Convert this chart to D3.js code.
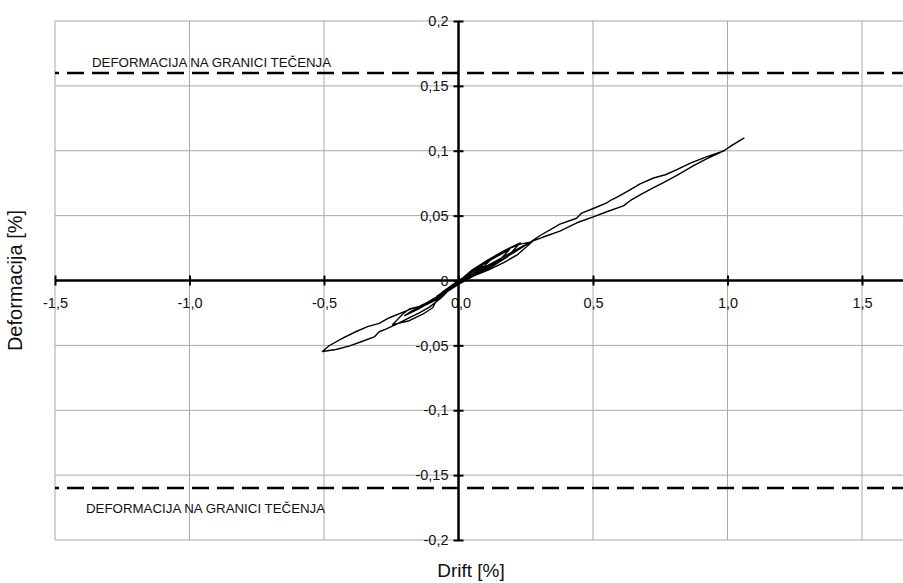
<!DOCTYPE html>
<html>
<head>
<meta charset="utf-8">
<script src="https://cdn.jsdelivr.net/npm/d3@7"></script>
<style>
  html, body { margin: 0; padding: 0; background: #fff; }
  svg { display: block; }
  text { font-family: "Liberation Sans", Arial, sans-serif; fill: #111; }
</style>
</head>
<body>
<svg id="chart" width="903" height="583"></svg>
<script>
// ---------- data ----------
const xTickValues = [-1.5, -1.0, -0.5, 0.0, 0.5, 1.0, 1.5];
const xTickLabels = ["-1,5", "-1,0", "-0,5", "0,0", "0,5", "1,0", "1,5"];
const yTickValues = [0.2, 0.15, 0.1, 0.05, 0, -0.05, -0.1, -0.15, -0.2];
const yTickLabels = ["0,2", "0,15", "0,1", "0,05", "0", "-0,05", "-0,1", "-0,15", "-0,2"];
const yieldLevels = [0.16, -0.16];
const yieldLabel = "DEFORMACIJA NA GRANICI TEČENJA";
const xTitle = "Drift [%]";
const yTitle = "Deformacija [%]";

// hysteresis record: drift [%]
const drift = [
  0, 0.04, 0.09, 0.06, 0.02, -0.03, -0.08, -0.05, -0.01, 0.03,
  0.07, 0.12, 0.08, 0.03, -0.04, -0.10, -0.06, -0.02,
  0.08, 0.13, 0.19, 0.15, 0.10, 0.05, 0.0, -0.05, -0.10, -0.14, -0.11, -0.07, -0.03, 0.01,
  0.05, 0.11, 0.17, 0.23, 0.18, 0.12, 0.06, 0.0, -0.06, -0.12, -0.17, -0.20, -0.15, -0.09, -0.04, 0.0,
  0.06, 0.12, 0.18, 0.23, 0.275, 0.22, 0.17, 0.11, 0.05, 0.0, -0.05, -0.096, -0.146, -0.183, -0.208, -0.245,
  -0.183, -0.133, -0.096, -0.083, -0.04, 0.0,
  0.05, 0.10, 0.16, 0.21, 0.27, 0.315, 0.377, 0.44, 0.501, 0.551, 0.613, 0.638, 0.675, 0.725, 0.762, 0.812,
  0.874, 0.924, 0.986, 1.02, 1.061,
  1.011, 0.986, 0.924, 0.862, 0.812, 0.769, 0.725, 0.675, 0.626, 0.588, 0.563, 0.551, 0.501, 0.458, 0.439,
  0.377, 0.302, 0.27, 0.20, 0.13, 0.06, 0.0,
  -0.03, -0.065, -0.108, -0.146, -0.195, -0.232, -0.27, -0.295, -0.313, -0.357, -0.407, -0.456, -0.506,
  -0.481, -0.432, -0.382, -0.338, -0.295, -0.257, -0.208, -0.171, -0.121, -0.06, -0.025, 0.0
];
// hysteresis record: deformation [%]
const deformation = [
  0, 0.005, 0.011, 0.006, 0.001, -0.005, -0.012, -0.008, -0.002, 0.003,
  0.010, 0.016, 0.008, 0.001, -0.008, -0.016, -0.009, -0.003,
  0.011, 0.017, 0.024, 0.015, 0.009, 0.003, -0.002, -0.009, -0.015, -0.020, -0.017, -0.012, -0.005, 0.001,
  0.008, 0.016, 0.023, 0.029, 0.018, 0.010, 0.004, -0.003, -0.011, -0.018, -0.023, -0.027, -0.022, -0.015, -0.007, -0.001,
  0.009, 0.017, 0.024, 0.028, 0.030, 0.020, 0.014, 0.008, 0.003, -0.002, -0.009, -0.0149, -0.020, -0.022, -0.026, -0.034,
  -0.031, -0.026, -0.021, -0.016, -0.008, -0.001,
  0.005, 0.010, 0.016, 0.022, 0.030, 0.0335, 0.038, 0.0445, 0.049, 0.053, 0.0575, 0.0615, 0.066, 0.0715, 0.0755, 0.081,
  0.0885, 0.094, 0.100, 0.1045, 0.1097,
  0.1035, 0.0998, 0.0955, 0.0905, 0.0855, 0.0815, 0.079, 0.0745, 0.0685, 0.064, 0.0615, 0.0598, 0.0555, 0.052, 0.048,
  0.0435, 0.0345, 0.030, 0.022, 0.014, 0.006, -0.001,
  -0.006, -0.0135, -0.0205, -0.025, -0.030, -0.0338, -0.0375, -0.0395, -0.0435, -0.0468, -0.0506, -0.0532, -0.0547,
  -0.0503, -0.0446, -0.0395, -0.0356, -0.033, -0.0287, -0.0246, -0.0215, -0.0188, -0.0125, -0.005, 0.0
];

// ---------- layout ----------
const svg = d3.select("#chart");
const W = 903, H = 583;
const x = d3.scaleLinear().domain([-1.5, 1.66]).range([55, 55 + 3.16 * 269]);
const y = d3.scaleLinear().domain([-0.2, 0.2]).range([540, 21]);
const plotLeft = x(-1.5), plotRight = W, plotTop = y(0.2), plotBottom = y(-0.2);

// grid
const grid = svg.append("g");
const xGridVals = [-1.5, -1.0, -0.5, 0.5, 1.0, 1.5];
grid.selectAll("line.vx").data(xGridVals).enter().append("line")
  .attr("x1", d => x(d)).attr("x2", d => x(d))
  .attr("y1", plotTop).attr("y2", plotBottom)
  .attr("stroke", "#a8a8a8").attr("stroke-width", 1);
grid.selectAll("line.hy").data(yTickValues.filter(v => v !== 0)).enter().append("line")
  .attr("x1", plotLeft).attr("x2", plotRight)
  .attr("y1", d => y(d)).attr("y2", d => y(d))
  .attr("stroke", "#a8a8a8").attr("stroke-width", 1);

// yield lines
svg.append("g").selectAll("line").data(yieldLevels).enter().append("line")
  .attr("x1", plotLeft).attr("x2", plotRight)
  .attr("y1", d => y(d)).attr("y2", d => y(d))
  .attr("stroke", "#000").attr("stroke-width", 2.5)
  .attr("stroke-dasharray", "17,8").attr("stroke-dashoffset", 13);

svg.append("text").attr("x", 92).attr("y", y(yieldLevels[0]) - 6)
  .attr("font-size", 13.3).text(yieldLabel);
svg.append("text").attr("x", 86).attr("y", y(yieldLevels[1]) + 25)
  .attr("font-size", 13.3).text(yieldLabel);

// x axis (through y = 0)
const xAxis = d3.axisBottom(x)
  .tickValues(xTickValues)
  .tickFormat((d, i) => xTickLabels[i])
  .tickSizeInner(5).tickSizeOuter(0).tickPadding(12);
const gx = svg.append("g").attr("transform", `translate(0,${y(0)})`).call(xAxis);
gx.select(".domain").remove();
gx.append("line").attr("x1", plotLeft).attr("x2", plotRight).attr("y1", 0).attr("y2", 0)
  .attr("stroke", "#000").attr("stroke-width", 2.5);
gx.selectAll(".tick line").attr("y1", -5).attr("y2", 5).attr("stroke", "#000").attr("stroke-width", 2);
gx.selectAll(".tick text").attr("font-size", 14.5).attr("font-family", "Liberation Sans, Arial, sans-serif").attr("fill", "#111")
  .attr("dx", (d) => d === 0 ? 2 : 0);

// y axis (through x = 0)
const yAxis = d3.axisLeft(y)
  .tickValues(yTickValues)
  .tickFormat((d, i) => yTickLabels[i])
  .tickSizeInner(5).tickSizeOuter(0).tickPadding(6);
const gy = svg.append("g").attr("transform", `translate(${x(0)},0)`).call(yAxis);
gy.select(".domain").remove();
gy.append("line").attr("x1", 0).attr("x2", 0).attr("y1", plotTop).attr("y2", plotBottom)
  .attr("stroke", "#000").attr("stroke-width", 2.5);
gy.selectAll(".tick line").attr("x1", -5).attr("x2", 5).attr("stroke", "#000").attr("stroke-width", 2);
gy.selectAll(".tick text").attr("font-size", 14.5).attr("font-family", "Liberation Sans, Arial, sans-serif").attr("fill", "#111")
  .attr("x", -10);

// hysteresis curve
const pts = drift.map((d, i) => [d, deformation[i]]);
const line = d3.line().x(d => x(d[0])).y(d => y(d[1])).curve(d3.curveLinear);
svg.append("path").attr("d", line(pts))
  .attr("fill", "none").attr("stroke", "#000").attr("stroke-width", 1.4)
  .attr("stroke-linejoin", "round");

// titles
svg.append("text").attr("x", 471).attr("y", 577).attr("text-anchor", "middle")
  .attr("font-size", 19).text(xTitle);
svg.append("text").attr("transform", `translate(22,${y(0)}) rotate(-90)`)
  .attr("text-anchor", "middle").attr("font-size", 20).text(yTitle);
</script>
</body>
</html>
